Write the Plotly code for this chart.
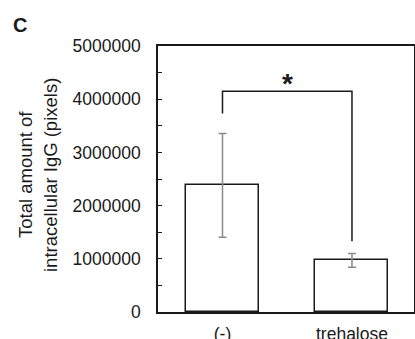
import plotly.graph_objects as go

categories = ["(-)", "trehalose"]
means = [2380000, 970000]
errors = [975000, 130000]
ytick_vals = [0, 1000000, 2000000, 3000000, 4000000, 5000000]
ytick_text = ["0", "1000000", "2000000", "3000000", "4000000", "5000000"]
bracket_x = [0, 0, 1, 1]
bracket_y = [3730000, 4150000, 4150000, 1330000]
star_text = "*"
panel_label = "C"
ytitle_lines = ["Total amount of", "intracellular IgG (pixels)"]

FONT = "Liberation Sans, Arial, sans-serif"
W, H = 415, 339
ML, MR, MT, MB = 158, 1, 46, 27
PW = W - ML - MR
PH = H - MT - MB

fig = go.Figure()
fig.add_trace(go.Bar(
    x=[0, 1], y=means, width=0.564,
    marker=dict(color="white", line=dict(color="#1a1a1a", width=1.5)),
    error_y=dict(type="data", array=errors, color="#8a8a8a", thickness=1.5, width=4),
    showlegend=False,
))
fig.add_trace(go.Scatter(
    x=bracket_x, y=bracket_y, mode="lines",
    line=dict(color="#1a1a1a", width=1.5), showlegend=False, hoverinfo="skip",
))

fig.update_layout(
    width=W, height=H,
    margin=dict(l=ML, r=MR, t=MT, b=MB, pad=0, autoexpand=False),
    plot_bgcolor="white", paper_bgcolor="white",
    font=dict(family=FONT, color="#1a1a1a", size=17),
    bargap=0,
)
fig.update_xaxes(
    range=[-0.498, 1.479], tickvals=[0, 1], ticktext=categories,
    showline=True, mirror=True, linecolor="#1a1a1a", linewidth=1.5,
    ticks="", showgrid=False, zeroline=False, automargin=False,
    tickfont=dict(size=17.5), ticklabelstandoff=5,
)
fig.update_yaxes(
    range=[0, 5000000], tickvals=ytick_vals, ticktext=ytick_text,
    showline=True, mirror=True, linecolor="#1a1a1a", linewidth=1.5,
    ticks="inside", ticklen=4, tickwidth=1.2, tickcolor="#1a1a1a",
    minor=dict(dtick=500000, ticks="inside", ticklen=4, tickwidth=1.2, tickcolor="#1a1a1a", showgrid=False),
    showgrid=False, zeroline=False, automargin=False,
    tickfont=dict(size=17.5), ticklabelstandoff=12,
)

annotations = [
    dict(text="<b>%s</b>" % star_text, x=0.5, y=4150000, xref="x", yref="y", yanchor="bottom",
         showarrow=False, font=dict(size=28, family=FONT, color="#1a1a1a"), yshift=-10),
    dict(text="<b>%s</b>" % panel_label, x=(19.5 - ML) / PW, y=(H - MB - 25) / PH,
         xref="paper", yref="paper", xanchor="center", yanchor="middle",
         showarrow=False, font=dict(size=20, family=FONT, color="#1a1a1a")),
]
for i, (line, px) in enumerate(zip(ytitle_lines, [25, 50])):
    annotations.append(dict(
        text=line, x=(px - ML) / PW, y=(H - MB - 175) / PH,
        xref="paper", yref="paper", xanchor="center", yanchor="middle",
        textangle=-90, showarrow=False, font=dict(size=18.5, family=FONT, color="#1a1a1a"),
    ))
fig.update_layout(annotations=annotations)

fig.write_html("out.html")
